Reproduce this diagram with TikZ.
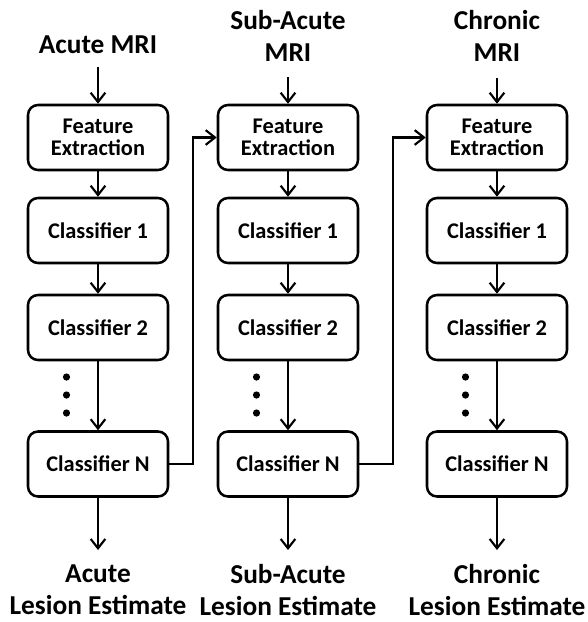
\documentclass[tikz,border=0pt]{standalone}
\usepackage{fontspec}
\setmainfont{Carlito}
\usetikzlibrary{arrows.meta}
\begin{document}
\begin{tikzpicture}[x=0.75pt,y=-0.75pt,
  box/.style={draw,line width=1.9pt,rounded corners=7.5pt,minimum width=105pt,align=center,font=\bfseries\fontsize{16.8}{16.5}\selectfont,inner sep=0pt},
  fe/.style={box,minimum height=48.75pt},
  cl/.style={box,minimum height=48.75pt},
  lbl/.style={align=center,font=\bfseries\fontsize{20.5}{24}\selectfont,inner sep=0pt},
  arr/.style={line width=1.6pt,-{Straight Barb[length=7pt,width=11pt,line width=1.6pt]}},
  ln/.style={line width=1.6pt}]
\useasboundingbox (0,0) rectangle (587,622);
\foreach \c/\x in {a/98,b/288,c/497}{
  \node[fe] (\c fe) at (\x,137.5) {Feature\\Extraction};
  \node[cl] (\c c1) at (\x,230.5) {Classifier 1};
  \node[cl] (\c c2) at (\x,327.5) {Classifier 2};
  \node[cl] (\c cn) at (\x,464) {Classifier N};
  \coordinate (\c out) at (\x,550);
  \draw[arr] (\c fe) -- (\c c1);
  \draw[arr] (\c c1) -- (\c c2);
  \draw[arr] (\c c2) -- (\c cn);
  \draw[arr] (\c cn) -- (\c out);
  \foreach \y in {377,395,413} \fill (\x-31.5,\y) circle (3.6);
}
\node[lbl] (ain) at (98,45) {Acute MRI};
\node[lbl] (bin) at (288,36) {Sub-Acute\\MRI};
\node[lbl] (cin) at (497,36) {Chronic\\MRI};
\coordinate (ainb) at (98,67);
\coordinate (binb) at (288,77);
\coordinate (cinb) at (497,78);
\draw[arr] (ainb) -- (afe);
\draw[arr] (binb) -- (bfe);
\draw[arr] (cinb) -- (cfe);
\node[lbl] (aout2) at (98,590) {Acute\\Lesion Estimate};
\node[lbl] (bout2) at (288,590) {Sub-Acute\\Lesion Estimate};
\node[lbl] (cout2) at (497,590) {Chronic\\Lesion Estimate};
\coordinate (ab) at (193,464);
\coordinate (bc) at (393,464);
\draw[arr] (acn.east) -- (ab) |- (bfe.west);
\draw[arr] (bcn.east) -- (bc) |- (cfe.west);
\end{tikzpicture}
\end{document}
